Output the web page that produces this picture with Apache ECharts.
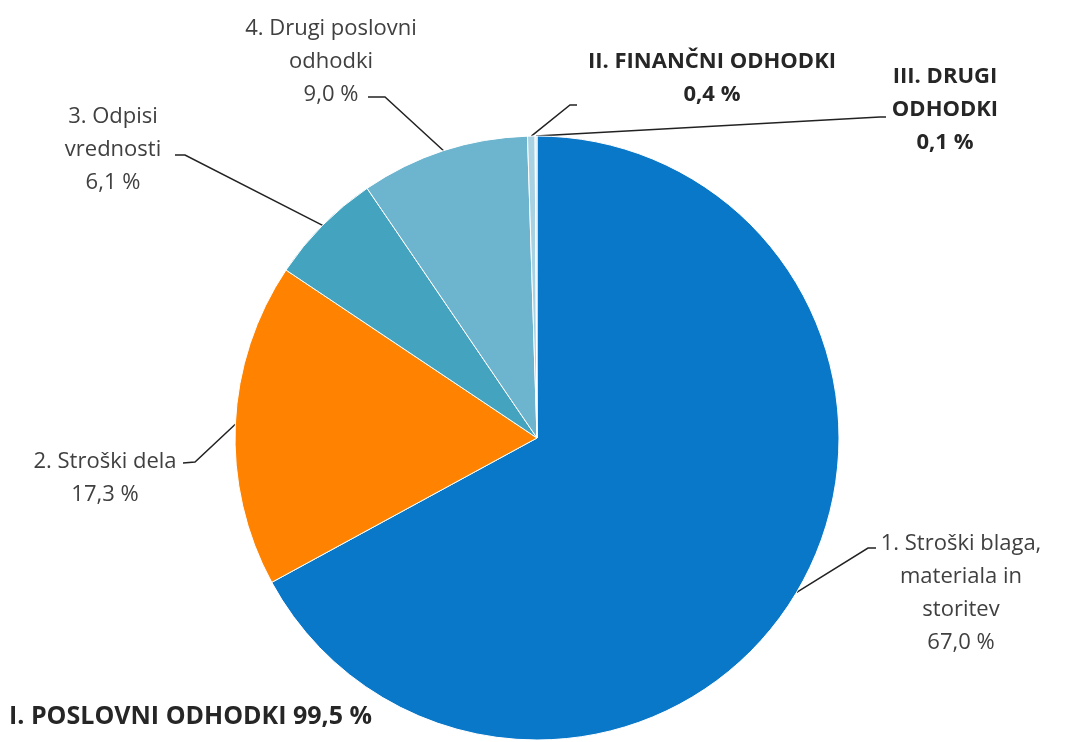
<!DOCTYPE html>
<html><head><meta charset="utf-8">
<script src="https://cdn.jsdelivr.net/npm/echarts@6/dist/echarts.min.js"></script>
<style>html,body{margin:0;padding:0;background:#fff}#c{width:1076px;height:742px}</style>
</head><body><div id="c"></div>
<script>
const categories = [
  '1. Stroški blaga,\nmateriala in\nstoritev',
  '2. Stroški dela',
  '3. Odpisi\nvrednosti',
  '4. Drugi poslovni\nodhodki',
  'II. FINANČNI ODHODKI',
  'III. DRUGI\nODHODKI'
];
const values = [67.0, 17.3, 6.1, 9.0, 0.4, 0.1];
const valueLabels = ['67,0 %', '17,3 %', '6,1 %', '9,0 %', '0,4 %', '0,1 %'];
const totalLabel = 'I. POSLOVNI ODHODKI 99,5 %';

const colors = ['#0A78C9', '#FF8300', '#44A3BE', '#6DB4CE', '#A8D2E2', '#C9E3EE'];
const bold = [false, false, false, false, true, true];
// label block centres and leader-line elbows (layout only)
const labelPos = [[961, 593], [105, 478], [113, 150], [331, 62], [712, 78], [945, 110]];
const lineElbow = [[[868, 548], [876, 548]], [[195, 462], [183, 463]], [[185, 155], [175, 155]],
                   [[385, 97], [368, 97]], [[570, 105], [577, 105]], [[880, 117], [886, 117]]];

const chart = echarts.init(document.getElementById('c'));
chart.setOption({
  animation: false,
  title: {
    text: totalLabel, left: 4, top: 699,
    textStyle: {fontFamily: 'Open Sans', fontSize: 25, fontWeight: 'bold', color: '#262626'}
  },
  series: [{
    type: 'pie',
    center: [537, 438],
    radius: 302,
    startAngle: 90,
    clockwise: true,
    itemStyle: {borderColor: '#fff', borderWidth: 1},
    label: {
      show: true, overflow: 'none',
      fontFamily: 'Open Sans', fontSize: 22, color: '#404040', lineHeight: 33, align: 'center'
    },
    labelLine: {show: true, length: 20, length2: 10, lineStyle: {color: '#222', width: 1.5}},
    labelLayout: function (p) {
      const i = p.dataIndex;
      const pos = labelPos[i];
      const out = {x: pos[0], y: pos[1], align: 'center', verticalAlign: 'middle'};
      if (p.labelLinePoints && p.labelLinePoints.length) {
        out.labelLinePoints = [p.labelLinePoints[0].slice(), lineElbow[i][0], lineElbow[i][1]];
      }
      return out;
    },
    data: categories.map((c, i) => ({
      name: c,
      value: values[i],
      itemStyle: {color: colors[i]},
      label: {
        formatter: c + '\n' + valueLabels[i],
        overflow: 'none',
        width: 400,
        fontWeight: bold[i] ? 'bold' : 'normal',
        fontSize: 22,
        color: bold[i] ? '#262626' : '#404040'
      }
    }))
  }]
});
</script></body></html>
